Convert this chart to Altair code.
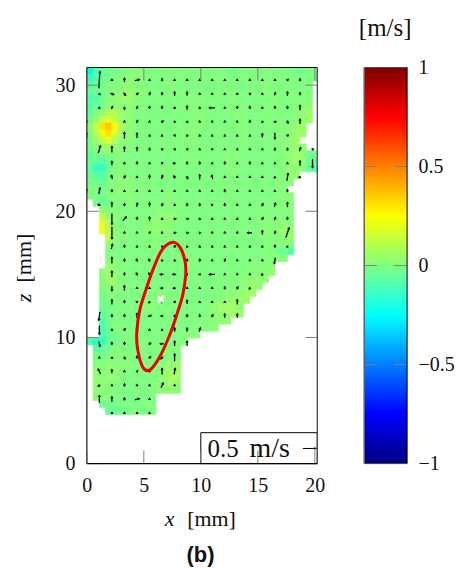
import math
import altair as alt
import pandas as pd

SERIF = "Liberation Serif"
W, H = 231, 397
XMAX, YMAX = 20.22, 31.4
CELL = 0.55
GRID = 1.1
ARROW_Y0 = 4.0
TICKS_X = [0, 5, 10, 15, 20]
TICKS_Y = [0, 10, 20, 30]
CB_TICKS = [-1, -0.5, 0, 0.5, 1]
CB_H_TICKS = [-0.5, 0, 0.5]

STOPS = [-1, -0.75, -0.25, 0, 0.25, 0.75, 1]
COLORS = ["#000080", "#0000ff", "#00ffff", "#80ff80", "#ffff00", "#ff0000", "#800000"]

CODES = {"A": -0.15, "B": -0.11, "C": -0.07, "D": -0.04, "E": -0.02, "F": 0.0, "G": 0.015,
         "H": 0.035, "I": 0.06, "J": 0.10, "K": 0.13, "L": 0.2, "M": 0.26, "N": 0.33, "O": 0.4}

ROW_START = [0] * 19 + [1, 2, 2, 2, 2, 3, 3, 3, 3, 3, 2, 2, 2, 2, 2, 2, 2, 2, 2, 2, 0,
                        1, 1, 1, 1, 1, 1, 1, 1, 2, 3]
ROWS = [
    "ACDEE FFGGG FFGFF FFGFF FFFEF FFFGF FFFEE FE",
    "BCDEF FGGGF FFFGF FFFFF GFFFF FFFFF GFFFF FE",
    "CDEFF GHGGF FFGGF FFFFF FFFFE FFFGF FFFFF F",
    "DDEFG HIHGG FFFGF FFFFF FFGGF FFFFG GFFFF F",
    "CCEGH HIHGF FFFFF FGGGF FFFGF FFFFG GFFFG G",
    "CDEGH HHGGF FFFFF GGGFF FFGGG FFFGG GFFGG H",
    "DFHJJ IHGGF FFFFF FGGGF FFGGG FFFGG GFFGH I",
    "EHKLK IHGFF FFFFF FGGGF FFFGG FFFGG GFFGH I",
    "GKNOM JHGFF FFFFG GGGFF FFFGG FFFFF GGGHI",
    "GJMNL IHGFF FFFFG GGGFF FFFFG GFFFF GGHII",
    "FHKLJ HGFFF FFFFF GGGFF FFFFG FFFFF GGHI",
    "EGHIH GGFFF FFFFF FGGFF FFFFF FFFFF FGHIH",
    "DEFGG GFFFF FFFFF FFFFF FFGFF FFFFF FGHIH EE",
    "DDCEF FFFFF FFFFF FGFFF FFGGF FFFFF FGHIH ED",
    "DBBDF GFFFF FFFGF FFFFF FFFGG FFFFF FGHHG DC",
    "DCCEF GFFFF FFFGG FFFFF FFFGF FFFFF FGHH",
    "EEDFG HGFFF FFFFF FFFFF FFGFF FFFFF GGG",
    "FFEFG HHGFF FFFFF FFFFF FFFFF FFFFF GG",
    "FEEFG GGGFF FFGGF FFFFF FFFFF FFFFF GGG",
    "EDEFG GFFFF FFGGF FFFFF FFGFF FFFFF GG",
    "HGFFF FFFFG GGFFF FFFFF FFFFF FFFFG G",
    "KHGFF FFFFH HHGFF FFFFF FFFFF FGGGF G",
    "LJGFF FFGHH HGGFF FFFGF FFFFF GGGHH G",
    "LKGFF FFGHH HGFFF FFGGF FFFFF GGGHI H",
    "KHGFF FGGGG GFFFF FFFFF FFFFF GGGHH",
    "HGFFF FFGGF FFFFF FFFFF FFFFF GGGGF",
    "GFFFF FFFFF FFFGF FFFFF FFFFF FGEDC",
    "GFFFF FFFFF FFFGG FFFFF FFFFF GGGG",
    "HGFFF FFFFF FFGGF FFFFF FFFGG GG",
    "HIHGF FFFFF FFFFF FFFFF FFFGG GGH",
    "GIIGF FFFFF FFFFF GFFFF FFGGH HH",
    "GHHGF FFFFF FFFFF GFFFF FGGHI H",
    "FGGFF FFFFG GFFFF FFFFF GGHII",
    "EFFFF FFGGG FFFFF FFFFG HIII",
    "EEFFF FFGGF FFFFF FFGHI IIH",
    "DEFFF FFFFF FFFFF FFGHH III",
    "CEFFF FFFFF FFFFF FFGGH H",
    "CDFFF FFFFF FFFFF GGGH",
    "CDEFF FFFFF FFFGG G",
    "CBBDE FFFFF FFFFF G",
    "CDEFF FFFFF FFGG",
    "EEFGG GFFFF FFGG",
    "FFGGG GFFFF GGHH",
    "GGHHG GFFFF GHII",
    "HGHHG FFFFF GIJI",
    "HHGGF FFFFF GHIH",
    "HGGFF FFFFF GHHG",
    "GGFFF EFFFF",
    "EEEFF FFFF",
    "DDEEF FFF",
]

# arrow components, in 0.05 m/s; first row is the top one
U_ROWS = [
    [0, 1, 0, 0, 4, 0, 0, 0, 0, 0, 0, 0, 0, 0, 0, 0, 1, 0, 0],
    [0, 1, 3, 2, 2, 1, 0, 0, 0, 0, 0, 0, 0, 1, 0, 1, 0, 0, 0],
    [0, 0, 1, 0, 1, 0, 0, 0, 0, 0, -5, 0, 0, 0, 0, 0, 0, 0, 0],
    [0, 0, 0, 0, 1, 0, 2, 1, 1, 0, 0, 0, 0, 0, 1, 2, 1, 0, 0],
    [0, 0, 0, 0, 0, 0, 0, 1, 1, 0, 0, 0, 0, 0, 0, 0, 1, 0, 0],
    [0, 2, 0, 0, 0, 0, 1, 1, 1, 0, 0, 0, 0, 0, 0, 0, 0, 1, 1],
    [0, 0, 0, 0, 0, 0, 1, -2, 0, 0, 0, 0, 0, 0, 0, 0, 0, 0, 0],
    [0, 0, -1, 1, 0, 0, 1, -1, 1, 0, -1, 0, 0, 0, 0, -1, 1, -2, 0],
    [0, 1, 0, 0, 0, 0, 0, 0, 0, 0, 0, 0, 0, 0, 0, 0, 0, 0, 0],
    [0, -2, 0, 0, 1, 0, 1, 0, 0, 0, -1, 0, 0, 0, 1, 1, 0, 0, 0],
    [0, 0, 0, 3, 0, 0, 0, 2, 2, 0, 0, 0, 0, 0, 1, 1, 0, 0, 0],
    [0, 0, 0, 0, 0, 1, 0, 2, 2, 1, 0, 0, 0, -4, 0, 1, 3, 0, 0],
    [0, 0, 1, 0, 0, 0, 2, 1, 1, 0, 0, 0, 0, 0, 0, 0, -1, 0, 0],
    [0, 0, 0, 0, -1, -1, 1, 1, 0, 0, 0, 1, 0, 0, 0, -1, 0, 0, 0],
    [0, 0, 0, 0, -1, -1, -3, -3, -1, -1, -5, 0, 0, 0, -1, 0, 0, 0, 0],
    [0, 0, 0, 0, 0, 0, -2, -2, 0, 0, 0, 0, 1, -1, 0, 0, 0, 0, 0],
    [0, 0, 0, 0, -1, -1, -1, 1, 0, 0, 0, 0, 0, 0, 0, 0, 0, 0, 0],
    [0, -1, 0, 0, 0, 3, -2, 2, 0, 0, 1, 0, 0, 0, 0, 0, 0, 0, 0],
    [0, 0, 0, 1, 0, 0, 0, 0, 0, 1],
    [0, 1, 0, 0, 0, 2, -3, 0, 0],
    [0, 0, 1, 1, 0, 2, -2, 0],
    [0, -2, 0, 0, 1, 0, 0, 1],
    [0, -2, 0, 0, 0, 0, 2, 0],
    [0, 0, 0, 0, 4, 0],
    [0, 0, 0, 0, 0, 0],
]
V_ROWS = [
    [0, 14, 1, 3, 1, 1, 2, 1, 1, 1, 1, 1, 1, 1, 1, 1, 1, 2, 0],
    [0, -1, -1, -2, 1, 2, 2, 3, 3, 1, 1, 1, 1, 1, 1, 2, 3, 2, 0],
    [0, 1, 2, -2, 2, 2, 2, 1, 3, 1, 0, 1, 2, 2, 1, 2, 2, 4, 0],
    [1, 0, 0, 1, 2, 1, 1, 0, -1, 1, 1, 1, 1, 2, 0, 0, -2, 4, 0],
    [4, 0, 0, 5, 4, 1, 1, 1, 0, 1, 1, 1, 1, 1, 3, -5, 1, 0, 0],
    [0, 6, 5, 4, 3, 2, 1, 1, 1, 1, 1, 1, 1, 1, 1, 2, 2, 3, 1],
    [0, 0, 3, 1, 2, 1, 1, 0, 2, 2, 1, 2, 1, 2, 1, 1, 1, 4, -7],
    [0, 0, 3, 2, 1, 3, 3, 2, -2, 4, 3, 1, 1, 1, 1, -1, 6, 0, 0],
    [3, 5, 2, 1, 1, 1, 1, 1, 1, 1, 1, 2, 1, 1, 1, 1, 2, 0, 0],
    [0, 1, 4, 2, 3, 3, 2, 1, 2, 2, 1, 2, 1, 1, 2, 3, 4, 0, 0],
    [0, 0, -9, 3, 2, 3, 1, 0, 0, 1, 1, 1, 1, 1, 2, 2, 2, 0, 0],
    [0, 0, -10, 1, 1, 1, 1, 0, 0, 0, 1, 1, 1, 0, 3, 2, 8, 0, 0],
    [0, 0, 4, 2, 1, 1, 0, 1, 0, 1, 1, 1, 1, 1, 1, 2, 0, 0, 0],
    [0, 0, 5, 2, 2, 2, 0, 0, 2, 2, 1, 2, 1, 1, 1, -5, 0, 0, 0],
    [0, 0, 5, 2, 2, 2, 0, 0, 0, 0, 0, 1, 1, 1, -1, 0, 0, 0, 0],
    [0, 0, -4, 4, 1, 1, 0, 0, 1, 1, 1, 2, 2, -1, 0, 0, 0, 0, 0],
    [0, 0, 4, 2, 1, -1, 1, 1, 3, 1, 1, 1, 4, 0, 0, 0, 0, 0, 0],
    [0, -7, 2, 2, 4, 1, 0, 1, 2, 2, 2, 3, 3, 0, 0, 0, 0, 0, 0],
    [0, -7, 1, 2, 2, 1, 1, 3, 3, 3],
    [0, -4, 2, 2, 2, 1, 0, 4, 4],
    [0, 1, -1, -2, 2, 1, -2, 6],
    [0, 4, 3, 1, 1, 1, 5, 5],
    [0, -1, 1, 2, 1, 1, 4, 1],
    [0, 6, 4, 2, 1, 1],
    [0, 0, 1, 1, 1, 1],
]

ELLIPSE_X = [7.53, 8.23, 8.63, 8.67, 8.41, 7.88, 7.27, 6.39, 5.52, 4.90, 4.47, 4.38, 4.64, 5.17, 5.78, 6.57]
ELLIPSE_Y = [17.54, 17.06, 15.96, 14.93, 13.35, 11.77, 10.19, 8.45, 7.42, 7.66, 9.00, 10.35, 12.16, 13.74, 15.32, 16.90]
WHITE_MARK = (6.48, 13.03)

BOX_X = (10.0, 20.22)
BOX_Y = (0.0, 2.45)
REF_ARROW = (18.95, 1.2, 12, 0)  # x, y, u, v

# ---- tables
cells = []
for m, (start, row) in enumerate(zip(ROW_START, ROWS)):
    for n, ch in enumerate(row.replace(" ", "")):
        k = start + n
        cells.append({"x0": k * CELL, "x1": (k + 1) * CELL,
                      "y0": YMAX - m * CELL, "y1": YMAX - (m + 1) * CELL, "v": CODES[ch]})
cells = pd.DataFrame(cells)

UNIT = 0.85 * GRID / 10.0  # 0.05 m/s in mm
PX_X, PX_Y = W / XMAX, H / YMAX


def arrow(x, y, u, v, centred=True):
    f = 0.5 if centred else 0.0
    return {"xa": x - f * u * UNIT, "ya": y - f * v * UNIT,
            "xb": x + (1 - f) * u * UNIT, "yb": y + (1 - f) * v * UNIT,
            "deg": math.degrees(math.atan2(u * PX_X, v * PX_Y)) % 360}


arrows = []
for j, (urow, vrow) in enumerate(zip(U_ROWS, V_ROWS)):
    y = ARROW_Y0 + GRID * (len(U_ROWS) - 1 - j)
    for i, (u, v) in enumerate(zip(urow, vrow)):
        if u or v:
            arrows.append(arrow(i * GRID, y, u, v))
arrows = pd.DataFrame(arrows)
ref_arrow = pd.DataFrame([arrow(*REF_ARROW, centred=False)])

ellipse = pd.DataFrame({"x": ELLIPSE_X, "y": ELLIPSE_Y, "o": range(len(ELLIPSE_X))})
one = pd.DataFrame({"a": [0]})

xs = alt.Scale(domain=[0, XMAX], nice=False, zero=False)
ys = alt.Scale(domain=[0, YMAX], nice=False, zero=False)
color_scale = alt.Scale(domain=STOPS, range=COLORS)

axis_common = dict(title=None, grid=False, domain=False, ticks=False,
                   labelFont=SERIF, labelFontSize=20, labelColor="#111", labelPadding=12)
AX_X = alt.Axis(values=TICKS_X, labelFlush=False, **axis_common)
AX_Y = alt.Axis(values=TICKS_Y, **axis_common)


def X(f):
    return alt.X(f, type="quantitative", scale=xs, axis=AX_X)


def Y(f):
    return alt.Y(f, type="quantitative", scale=ys, axis=AX_Y)


heat = alt.Chart(cells).mark_rect(clip=True, strokeWidth=0.6).encode(
    x=X("x0"), x2="x1:Q", y=Y("y0"), y2="y1:Q",
    color=alt.Color("v:Q", scale=color_scale, legend=None),
    stroke=alt.Color("v:Q", scale=color_scale, legend=None),
)

shafts = alt.Chart(arrows).mark_rule(color="black", strokeWidth=1.3, clip=True).encode(
    x=X("xa"), x2="xb:Q", y=Y("ya"), y2="yb:Q")
heads = alt.Chart(arrows).mark_point(shape="triangle-up", filled=True, size=10, color="black",
                                     opacity=1, strokeWidth=0, clip=True).encode(
    x=X("xb"), y=Y("yb"), angle=alt.Angle("deg:Q", scale=None))

ring = alt.Chart(ellipse).mark_line(color="#ee0000", strokeWidth=3, interpolate="cardinal-closed").encode(
    x=X("x"), y=Y("y"), order="o:Q")

white = alt.Chart(pd.DataFrame({"x": [WHITE_MARK[0]], "y": [WHITE_MARK[1]]})).mark_point(
    shape="cross", filled=True, color="white", size=60, angle=45, opacity=1, strokeWidth=0).encode(
    x=X("x"), y=Y("y"))

box = alt.Chart(pd.DataFrame({"x": [BOX_X[0]], "x2": [BOX_X[1]], "y": [BOX_Y[0]], "y2": [BOX_Y[1]]})).mark_rect(
    fill="white", stroke="black", strokeWidth=1).encode(x=X("x"), x2="x2:Q", y=Y("y"), y2="y2:Q")
ref_shaft = alt.Chart(ref_arrow).mark_rule(color="black", strokeWidth=1).encode(
    x=X("xa"), x2="xb:Q", y=Y("ya"), y2="yb:Q")
ref_head = alt.Chart(ref_arrow).mark_point(shape="triangle-up", filled=True, size=10, color="black",
                                           opacity=1, strokeWidth=0).encode(
    x=X("xb"), y=Y("yb"), angle=alt.Angle("deg:Q", scale=None))

TICK = "#808080"
tx = pd.DataFrame({"x": TICKS_X})
ty = pd.DataFrame({"y": TICKS_Y})
ticks = [
    alt.Chart(tx).mark_rule(color=TICK, strokeWidth=1).encode(x=X("x"), y=alt.value(0), y2=alt.value(13)),
    alt.Chart(tx).mark_rule(color=TICK, strokeWidth=1).encode(x=X("x"), y=alt.value(H - 13), y2=alt.value(H)),
    alt.Chart(ty).mark_rule(color=TICK, strokeWidth=1).encode(y=Y("y"), x=alt.value(0), x2=alt.value(12)),
    alt.Chart(ty).mark_rule(color=TICK, strokeWidth=1).encode(y=Y("y"), x=alt.value(W - 12), x2=alt.value(W)),
]


def hline(y, c, w, x0=0, x1=W):
    return alt.Chart(one).mark_rule(color=c, strokeWidth=w).encode(
        x=alt.value(x0), x2=alt.value(x1), y=alt.value(y))


def vline(x, c, w, y0=0, y1=H):
    return alt.Chart(one).mark_rule(color=c, strokeWidth=w).encode(
        x=alt.value(x), y=alt.value(y0), y2=alt.value(y1))


frame = [hline(0, "black", 1.2), hline(H, "black", 1.2), vline(0, "#505050", 1.6), vline(W, "#505050", 1.4)]


def label(txt, px, py, size=20, font=SERIF, style="normal", weight="normal", angle=0, align="center"):
    return alt.Chart(one).mark_text(text=txt, font=font, fontSize=size, fontStyle=style, fontWeight=weight,
                                    angle=angle, align=align, baseline="middle", color="#111").encode(
        x=alt.value(px), y=alt.value(py))


texts = [
    label("x", 83, 453, 22, style="italic"),
    label("[mm]", 125, 453, 22),
    label("z", -63, 231, 22, style="italic", angle=270),
    label("[mm]", -63, 191, 22, angle=270),
    label("(b)", 114, 489, 22, font="Liberation Sans", weight="bold"),
    label("0.5", 121, 382, 25, align="left"),
    label("m/s", 163, 382, 28, align="left"),
]

main = alt.layer(heat, shafts, heads, ring, white, box, ref_shaft, ref_head, *ticks, *frame, *texts).properties(
    width=W, height=H)

# ---- colour bar
CB_W = 43
cb_scale = alt.Scale(domain=[-1, 1], nice=False, zero=False)
AX_CB = alt.Axis(orient="right", values=CB_TICKS, title=None, grid=False, domain=False, ticks=False,
                 labelFont=SERIF, labelFontSize=20, labelColor="#111", labelAlign="left",
                 labelPadding=11, labelFlush=False,
                 labelExpr="replace(format(datum.value, '~g'), '-', '−')")
bar = alt.Chart(pd.DataFrame({"a": [-1], "b": [1]})).mark_rect(
    color=alt.Gradient(gradient="linear", x1=0, x2=0, y1=1, y2=0,
                       stops=[alt.GradientStop(offset=(s + 1) / 2, color=c) for s, c in zip(STOPS, COLORS)])
).encode(
    y=alt.Y("a:Q", scale=cb_scale, axis=AX_CB),
    y2="b:Q",
    x=alt.value(0), x2=alt.value(CB_W),
)
cbt = pd.DataFrame({"y": CB_H_TICKS})
cb_ticks = [
    alt.Chart(cbt).mark_rule(color=TICK, strokeWidth=1).encode(
        y=alt.Y("y:Q", scale=cb_scale, axis=AX_CB), x=alt.value(0), x2=alt.value(13)),
    alt.Chart(cbt).mark_rule(color=TICK, strokeWidth=1).encode(
        y=alt.Y("y:Q", scale=cb_scale, axis=AX_CB), x=alt.value(CB_W - 13), x2=alt.value(CB_W)),
]
cb_frame = [hline(0, "#505050", 1, 0, CB_W), hline(H, "#404040", 1, 0, CB_W),
            vline(0, "#606060", 1.5), vline(CB_W, "black", 1)]
cb_title = label("[m/s]", 21, -40, 25)
colorbar = alt.layer(bar, *cb_ticks, *cb_frame, cb_title).properties(width=CB_W, height=H)

chart = alt.hconcat(main, colorbar, spacing=33, padding={"left": 5, "top": 7, "right": 0, "bottom": 0}).configure_view(
    stroke=None).resolve_scale(color="independent")

chart.save("out.html", embed_options={"renderer": "svg", "actions": False})
